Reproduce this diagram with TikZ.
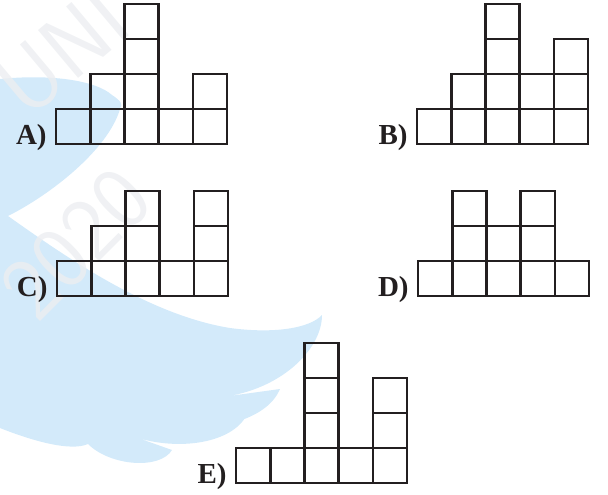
\documentclass[tikz,border=0pt]{standalone}
\usepackage{fontspec}
\setmainfont{Liberation Serif}
\usepackage{tikz}
\usetikzlibrary{positioning}

\definecolor{tratto}{RGB}{35,31,32}
\definecolor{ala}{RGB}{211,234,250}
\definecolor{filigrana}{RGB}{236,238,241}

\begin{document}
\begin{tikzpicture}[x=0.5pt, y=0.5pt]

\useasboundingbox (0,0) rectangle (608,494);

\def\cw{34.2}
\def\ch{35}

\tikzset{
    cella/.style={draw=tratto, line width=1.3pt},
    lettera/.style={font=\bfseries\fontsize{14.5}{17}\selectfont, text=tratto, inner sep=0pt},
    scritta/.style={font=\sffamily\fontsize{45}{50}\selectfont, text=filigrana, text opacity=0.8, inner sep=0pt},
    figura/.pic={
        \foreach \h [count=\i from 0] in {#1}
            \foreach \j in {1,...,\h}
                \draw[cella] (\i*\cw,\j*\ch-\ch) rectangle ++(\cw,\ch);
    }
}

% Filigrana
\begin{scope}[shift={(0,494)}, yscale=-1]
    \fill[ala] (0,79) .. controls (50,74) and (95,80) .. (112,95)
        .. controls (121,101) and (123,104) .. (120,109)
        .. controls (108,150) and (50,195) .. (8,216)
        .. controls (70,260) and (150,315) .. (230,328)
        .. controls (275,334) and (310,328) .. (322,315)
        .. controls (322,350) and (280,390) .. (222,397)
        -- (280,389)
        .. controls (268,418) and (222,430) .. (183,427)
        -- (245,418)
        .. controls (228,444) and (178,450) .. (138,438)
        -- (172,450)
        .. controls (160,470) and (110,466) .. (88,444)
        .. controls (70,452) and (30,440) .. (0,428) -- cycle;
    \node[scritta, rotate=40] (uni) at (62,52) {UNI};
    \node[scritta, rotate=45] (anno) at (76,244) {2020};
\end{scope}

% Punti d'origine
\coordinate (gA) at (56,350);
\coordinate (gB) at (417,350);
\coordinate (gC) at (57,198);
\coordinate (gD) at (418,198);
\coordinate (gE) at (236,11);

% Figure
\pic at (gA) {figura={1,2,4,1,2}};
\pic at (gB) {figura={1,2,4,2,3}};
\pic at (gC) {figura={1,2,3,1,3}};
\pic at (gD) {figura={1,3,2,3,1}};
\pic at (gE) {figura={1,1,4,1,3}};

% Etichette
\node[lettera, left=4.5pt of gA, anchor=base east] (labA) {A)};
\node[lettera, left=4.5pt of gB, anchor=base east] (labB) {B)};
\node[lettera, left=4.5pt of gC, anchor=base east] (labC) {C)};
\node[lettera, left=4.5pt of gD, anchor=base east] (labD) {D)};
\node[lettera, left=4.5pt of gE, anchor=base east] (labE) {E)};

\end{tikzpicture}
\end{document}
